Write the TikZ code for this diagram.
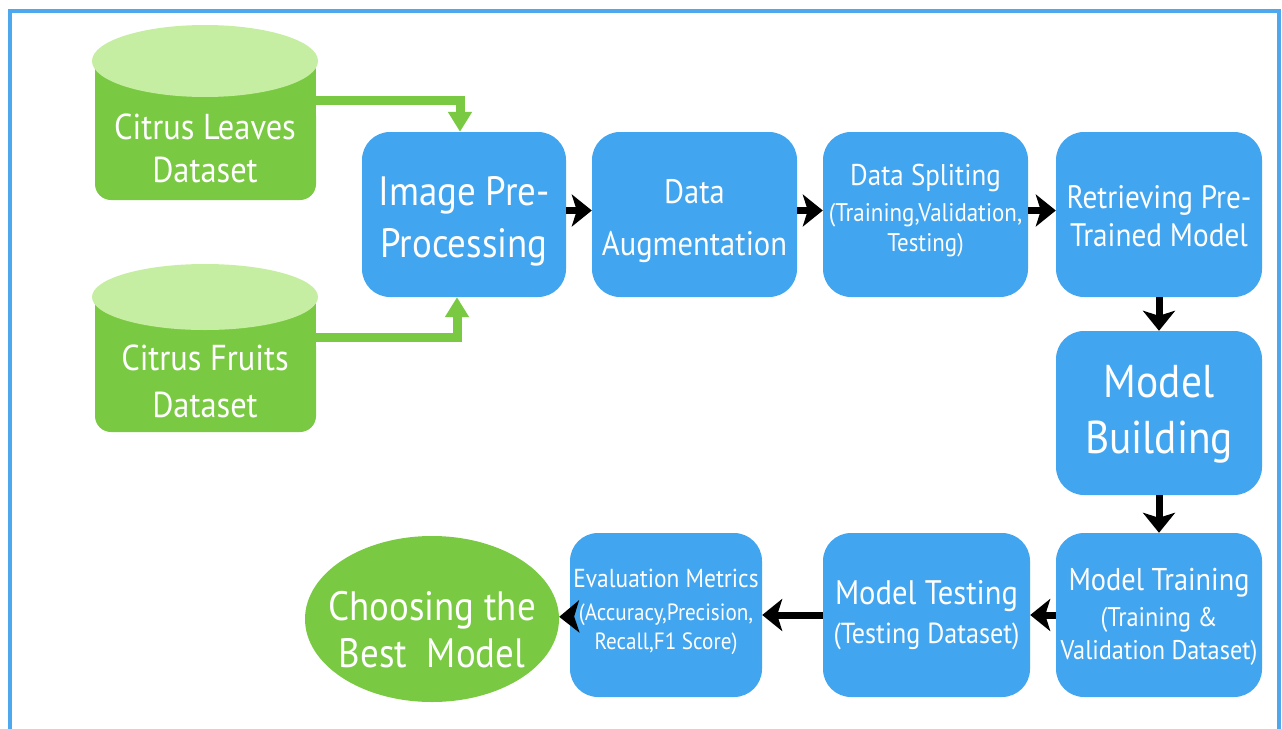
\documentclass[tikz,border=0pt]{standalone}
\usepackage{fontspec}
\setmainfont[FakeStretch=0.9]{PT Sans}
\usetikzlibrary{arrows.meta,shapes.geometric}
\definecolor{boxblue}{HTML}{42A5F0}
\definecolor{dbgreen}{HTML}{7AC943}
\definecolor{dbtop}{HTML}{C6EEA3}
\definecolor{frameblue}{HTML}{4DA8EE}
\newcommand{\fs}[2]{\fontsize{#1}{#2}\selectfont}
\begin{document}
\begin{tikzpicture}[x=1pt,y=-1pt,
  stepbox/.style={fill=boxblue, rounded corners=28pt, inner sep=0pt,
    minimum width=205pt, minimum height=165pt},
  label/.style={text=white, align=center, inner sep=0pt},
  flow/.style={-{Stealth[length=20pt,width=32pt,inset=5pt]}, line width=7pt, black},
  feed/.style={-{Triangle[length=20pt,width=23pt]}, line width=9pt, dbgreen}]
\useasboundingbox (0,0) rectangle (1282,728);
% open frame (runs off the bottom edge)
\draw[frameblue, line width=4pt] (10,760) -- (10,11) -- (1279,11) -- (1279,760);

% dataset cylinders
\fill[dbgreen] (95,61) rectangle (316,150);
\fill[dbgreen, rounded corners=16pt] (95,100) rectangle (316,200);
\fill[dbtop] (205,61) ellipse [x radius=113, y radius=36];
\node[label, font=\fs{36}{43}] (leaves) at (205,148) {Citrus Leaves\\Dataset};
\coordinate (leavesout) at (316,100);

\fill[dbgreen] (95,297) rectangle (316,380);
\fill[dbgreen, rounded corners=16pt] (95,330) rectangle (316,432);
\fill[dbtop] (205,297) ellipse [x radius=113, y radius=33];
\node[label, font=\fs{36}{47}] (fruits) at (205,381) {Citrus Fruits\\Dataset};
\coordinate (fruitsout) at (316,337);

% processing steps
\node[stepbox, minimum width=204pt] (img) at (464,214.5) {};
\node[label, font=\fs{41}{52}] at (464,221) {Image Pre-\\Processing};
\node[stepbox] (aug) at (694.5,214.5) {};
\node[label, font=\fs{34}{52}] at (694.5,221) {Data\\Augmentation};
\node[stepbox] (split) at (925.5,214.5) {};
\node[label, font=\fs{25.5}{30}] at (925.5,211)
  {{\fs{30}{30}Data Spliting}\\[6pt](Training,Validation,\\Testing)};
\node[stepbox, minimum width=206pt] (retr) at (1159,214.5) {};
\node[label, font=\fs{32.5}{38}] at (1159,216) {Retrieving Pre-\\Trained Model};
\node[stepbox, minimum width=206pt, minimum height=164pt] (build) at (1159,413) {};
\node[label, font=\fs{46}{56}] at (1159,414) {Model\\Building};
\node[stepbox, minimum width=206pt, minimum height=164pt] (train) at (1159,615) {};
\node[label, font=\fs{27}{33}] at (1159,617)
  {{\fs{31.5}{33}Model Training}\\[3pt](Training \&\\Validation Dataset)};
\node[stepbox, minimum width=207pt, minimum height=164pt] (test) at (926.5,615) {};
\node[label, font=\fs{29}{39}] at (926.5,615)
  {{\fs{34}{39}Model Testing}\\(Testing Dataset)};
\node[stepbox, minimum width=192pt, minimum height=164pt] (eval) at (666,615) {};
\node[label, font=\fs{23.5}{29}] at (666,612)
  {{\fs{26}{29}Evaluation Metrics}\\[4pt](Accuracy,Precision,\\Recall,F1 Score)};
\node[ellipse, fill=dbgreen, inner sep=0pt, minimum width=254pt, minimum height=166pt]
  (best) at (432,619) {};
\node[label, font=\fs{41}{47}] at (432,630) {Choosing the\\Best\ \ Model};

% connectors
\draw[feed] (leavesout) -| ([xshift=-4pt]img.north);
\draw[feed] (fruitsout) -| ([xshift=-7pt]img.south);
\draw[flow] ([yshift=4pt]img.east) -- ([yshift=4pt]aug.west);
\draw[flow] ([yshift=4pt]aug.east) -- ([yshift=4pt]split.west);
\draw[flow] ([yshift=4pt]split.east) -- ([yshift=4pt]retr.west);
\draw[flow] (retr) -- (build);
\draw[flow] (build) -- (train);
\draw[flow] (train) -- (test);
\draw[flow] (test) -- (eval);
\draw[flow] (eval) -- (best);
\end{tikzpicture}
\end{document}
